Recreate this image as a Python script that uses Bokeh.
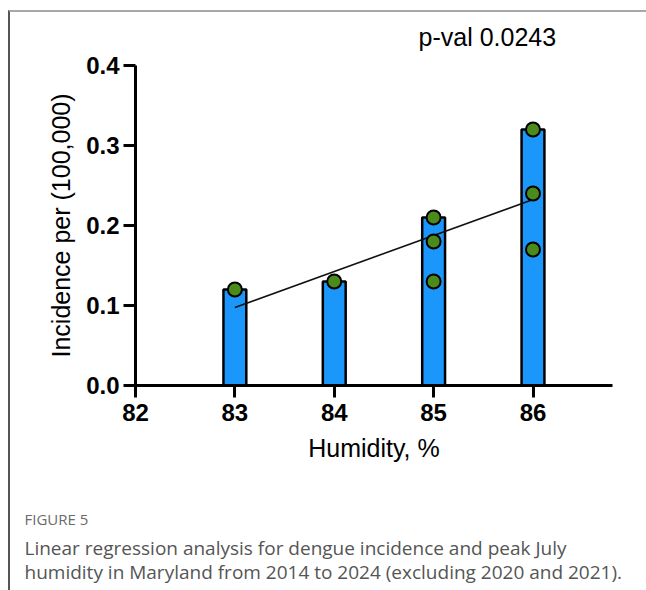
import numpy as np
from bokeh.plotting import figure
from bokeh.models import Range1d, FixedTicker, NumeralTickFormatter, ColumnDataSource, Title
from bokeh.layouts import column
from bokeh.embed import file_html
from bokeh.resources import INLINE

# data
humidity = [83, 84, 85, 86]
bar_height = [0.12, 0.13, 0.21, 0.32]
point_x = [83, 84, 85, 85, 85, 86, 86, 86]
point_y = [0.12, 0.13, 0.21, 0.18, 0.13, 0.32, 0.24, 0.17]
x_ticks = [82, 83, 84, 85, 86]
y_ticks = [0.0, 0.1, 0.2, 0.3, 0.4]
p_value_text = "p-val 0.0243"
caption_title = "FIGURE 5"
caption_line1 = "Linear regression analysis for dengue incidence and peak July"
caption_line2 = "humidity in Maryland from 2014 to 2024 (excluding 2020 and 2021)."

# regression fit from the data
slope, intercept = np.polyfit(point_x, point_y, 1)
fit_x = [min(point_x), max(point_x)]
fit_y = [slope * v + intercept for v in fit_x]

W = 636
LEFT, RIGHT = 125, 34


def blank(height, top, bottom):
    f = figure(width=W, height=height, output_backend="svg", toolbar_location=None,
               x_axis_type=None, y_axis_type=None, title=None,
               min_border_left=LEFT, min_border_right=RIGHT,
               min_border_top=top, min_border_bottom=bottom,
               x_range=Range1d(0, 1), y_range=Range1d(0, 1))
    f.outline_line_color = None
    f.xgrid.visible = False
    f.ygrid.visible = False
    return f


# top strip holding the p-value note
top = blank(41, 0, 33)
top.add_layout(Title(text=p_value_text, align="left", offset=283, text_font="Liberation Sans",
                     text_font_size="25px", text_font_style="normal", text_color="black",
                     standoff=0), "below")

# main chart
H = 417
p = figure(width=W, height=H, output_backend="svg", toolbar_location=None, title=None,
           x_range=Range1d(82, 86.8), y_range=Range1d(0, 0.4),
           min_border_left=LEFT, min_border_right=RIGHT, min_border_top=12,
           min_border_bottom=H - 12 - 320)
p.outline_line_color = None
p.xgrid.visible = False
p.ygrid.visible = False

bars = ColumnDataSource(dict(x=humidity, top=bar_height))
p.vbar(x="x", top="top", bottom=0, width=0.23, source=bars,
       fill_color="#1b97fb", line_color="black", line_width=2.5)
p.line(fit_x, fit_y, line_color="#111111", line_width=1.6)
pts = ColumnDataSource(dict(x=point_x, y=point_y))
p.scatter(x="x", y="y", source=pts, size=14, fill_color="#4a8b1c",
          line_color="black", line_width=2)

for ax in (p.xaxis[0], p.yaxis[0]):
    ax.axis_line_width = 3
    ax.axis_line_color = "black"
    ax.major_tick_line_width = 3
    ax.major_tick_line_color = "black"
    ax.major_tick_out = 12
    ax.major_tick_in = 0
    ax.minor_tick_line_color = None
    ax.major_label_text_font = "Liberation Sans"
    ax.major_label_text_font_style = "bold"
    ax.major_label_text_font_size = "24px"
    ax.major_label_text_color = "black"
    ax.axis_label_text_font = "Liberation Sans"
    ax.axis_label_text_font_style = "normal"
    ax.axis_label_text_color = "black"

p.xaxis.ticker = FixedTicker(ticks=x_ticks)
p.yaxis.ticker = FixedTicker(ticks=y_ticks)
p.yaxis.formatter = NumeralTickFormatter(format="0.0")
p.xaxis.major_label_standoff = 6
p.yaxis.major_label_standoff = 4
p.xaxis.axis_label = "Humidity, %"
p.xaxis.axis_label_text_font_size = "25px"
p.xaxis.axis_label_standoff = 10
p.yaxis.axis_label = "Incidence per (100,000)"
p.yaxis.axis_label_text_font_size = "25px"
p.yaxis.axis_label_standoff = 8

# caption strip
cap = blank(120, 0, 84)
cap_font = "Open Sans"
cap.add_layout(Title(text=caption_title, align="left", offset=14 - LEFT, text_font=cap_font,
                     text_font_size="15px", text_font_style="normal", text_color="#6a6a6a",
                     standoff=0), "below")
cap.add_layout(Title(text=caption_line1, align="left", offset=14 - LEFT, text_font=cap_font,
                     text_font_size="19px", text_font_style="normal", text_color="#555555",
                     standoff=8), "below")
cap.add_layout(Title(text=caption_line2, align="left", offset=14 - LEFT, text_font=cap_font,
                     text_font_size="19px", text_font_style="normal", text_color="#555555",
                     standoff=-16), "below")

layout = column(top, p, cap, spacing=0,
                styles={"border-top": "2px solid #a8a8a8", "border-left": "2px solid #555555",
                        "margin-top": "10px", "margin-left": "8px"})

open("out.html", "w").write(file_html(layout, INLINE))
